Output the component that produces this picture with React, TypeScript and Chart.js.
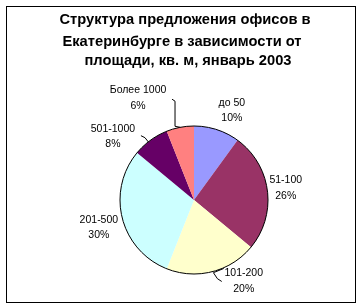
import React, { useEffect, useRef } from "react";
import { Chart, registerables } from "chart.js";

Chart.register(...registerables);

const categories = ["до 50", "51-100", "101-200", "201-500", "501-1000", "Более 1000"];
const shares = [10, 26, 20, 30, 8, 6];
const colors = ["#9999FF", "#993366", "#FFFFCC", "#CCFFFF", "#660066", "#FF8080"];
const titleLines = [
  "Структура предложения офисов в",
  "Екатеринбурге в зависимости от",
  "площади, кв. м, январь 2003",
];
// label placement: extra angle (deg) from slice middle and distance from centre (in radii)
const labelAngleShift = [5, 0, -17, -2, -16, -18];
const labelDistance = [1.31, 1.25, 1.29, 1.34, 1.39, 1.57];
const hasLeader = [false, false, true, false, true, true];

const decorPlugin = {
  id: "decor",
  beforeDraw(chart: any) {
    const ctx = chart.ctx;
    ctx.save();
    ctx.fillStyle = "#ffffff";
    ctx.fillRect(0, 0, chart.width, chart.height);
    ctx.strokeStyle = "#000";
    ctx.lineWidth = 1;
    ctx.strokeRect(6.5, 6.5, 349, 296);
    ctx.fillStyle = "#000";
    ctx.font = "bold 14.7px 'Liberation Sans', Arial, sans-serif";
    ctx.textAlign = "center";
    ctx.textBaseline = "middle";
    const lineX = [185, 182, 188];
    const lineY = [20, 41.5, 61];
    titleLines.forEach((t, i) => ctx.fillText(t, lineX[i], lineY[i]));
    ctx.restore();
  },
  afterDatasetsDraw(chart: any) {
    const ctx = chart.ctx;
    const meta = chart.getDatasetMeta(0);
    const arc0 = meta.data[0];
    const cx = arc0.x, cy = arc0.y, r = arc0.outerRadius;
    ctx.save();
    ctx.strokeStyle = "#000";
    ctx.lineWidth = 1;
    ctx.beginPath();
    ctx.arc(cx, cy, r, 0, Math.PI * 2);
    ctx.stroke();
    ctx.font = "10.5px 'Liberation Sans', Arial, sans-serif";
    ctx.fillStyle = "#000";
    ctx.textAlign = "center";
    ctx.textBaseline = "middle";
    const total = shares.reduce((a, b) => a + b, 0);
    meta.data.forEach((arc: any, i: number) => {
      const mid = (arc.startAngle + arc.endAngle) / 2;
      const a = mid + (labelAngleShift[i] * Math.PI) / 180;
      const d = r * labelDistance[i];
      const lx = cx + Math.cos(a) * d;
      const ly = cy + Math.sin(a) * d;
      ctx.fillText(categories[i], lx, ly - 8);
      ctx.fillText(Math.round((shares[i] / total) * 100) + "%", lx, ly + 7.5);
      if (hasLeader[i]) {
        const ex = cx + Math.cos(mid) * r;
        const ey = cy + Math.sin(mid) * r;
        ctx.beginPath();
        if (i === 5) {
          ctx.moveTo(lx + 34, ly + 1);
          ctx.lineTo(lx + 37, ly + 3);
          ctx.lineTo(lx + 37, ey - 1);
          ctx.lineTo(ex, ey);
        } else if (i === 4) {
          ctx.moveTo(lx + 28, ly - 1);
          ctx.lineTo(lx + 32, ly + 1);
          ctx.lineTo(ex - 2, ey + 2);
        } else {
          ctx.moveTo(lx - 20, ly - 13);
          ctx.lineTo(ex + 1, ey + 1);
          ctx.lineTo(ex + 5, ey + 7);
          ctx.lineTo(lx - 22, ly + 0);
        }
        ctx.stroke();
      }
    });
    ctx.restore();
  },
};

export default function App() {
  const ref = useRef<HTMLCanvasElement>(null);
  useEffect(() => {
    const chart = new Chart(ref.current as HTMLCanvasElement, {
      type: "pie",
      data: {
        labels: categories,
        datasets: [
          {
            data: shares,
            backgroundColor: colors,
            borderWidth: 0,
          },
        ],
      },
      options: {
        animation: false,
        responsive: false,
        devicePixelRatio: 1,
        layout: { padding: { left: 120, right: 94, top: 126, bottom: 33 } },
        plugins: {
          legend: { display: false },
          title: { display: false },
          tooltip: { enabled: false },
        },
      },
      plugins: [decorPlugin],
    });
    return () => chart.destroy();
  }, []);
  return (
    <div style={{ position: "fixed", left: 0, top: 0, width: 362, height: 307 }}>
      <canvas ref={ref} width={362} height={307} />
    </div>
  );
}
